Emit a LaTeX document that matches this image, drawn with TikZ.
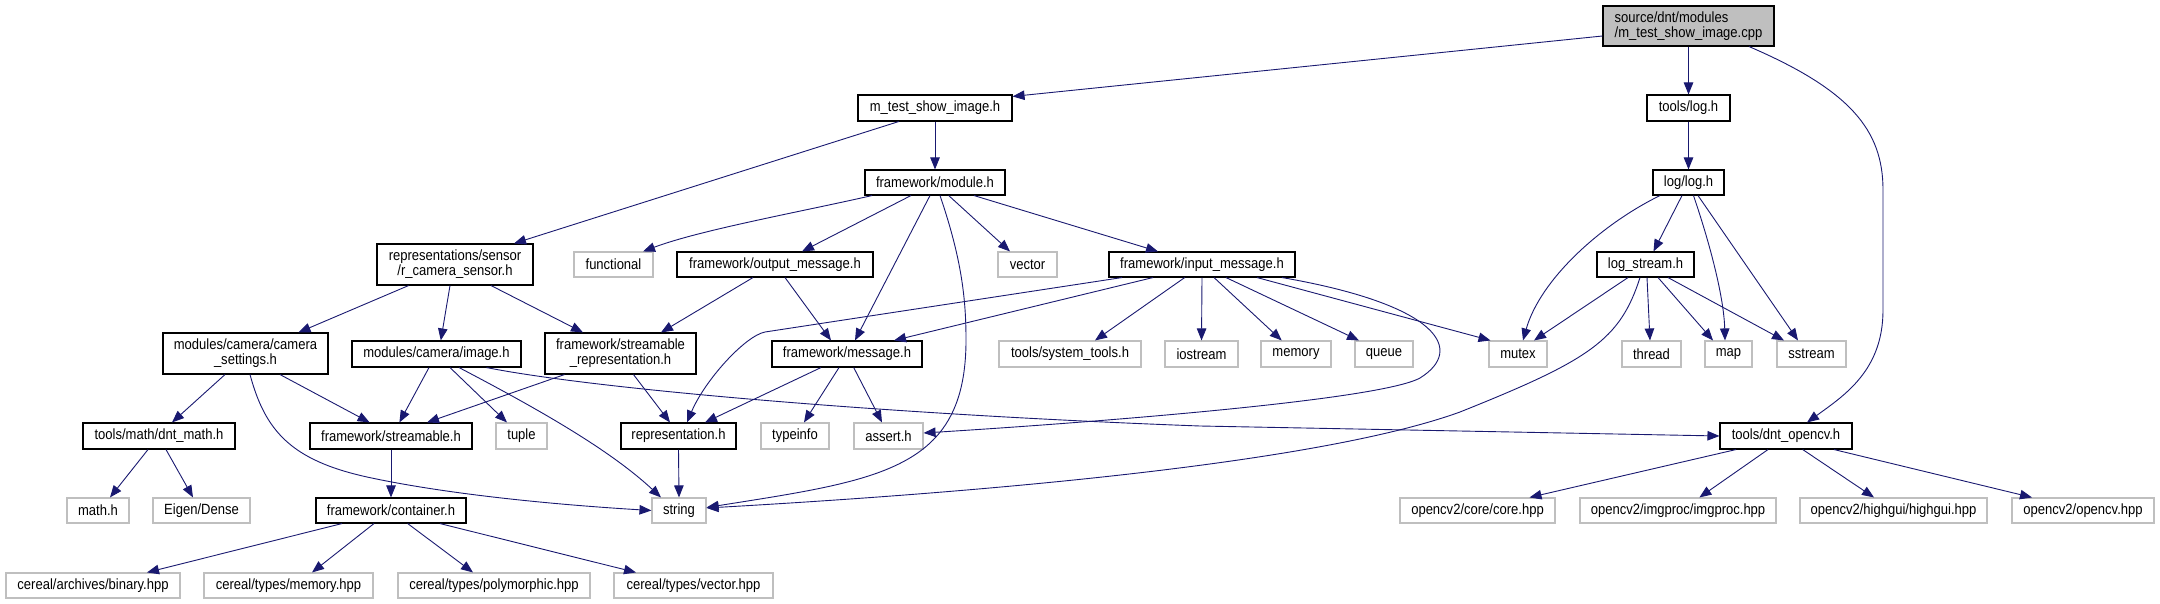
\documentclass[tikz,border=0pt]{standalone}
\usepackage{fontspec}
\newfontfamily\gf{Liberation Sans}[FakeStretch=0.88]
\usetikzlibrary{arrows.meta}
\definecolor{edgeblue}{HTML}{191970}
\definecolor{extgray}{HTML}{BFBFBF}
\tikzset{
  doc/.style={draw=black, fill=white, line width=1.1pt, inner sep=0pt, align=center,
    font=\gf\fontsize{14.8pt}{15pt}\selectfont},
  ext/.style={doc, draw=extgray},
  root/.style={doc, fill=extgray, align=left},
  dep/.style={draw=edgeblue, line width=0.9pt, -{Triangle[length=12pt,width=9.5pt]}}
}
\begin{document}
\begin{tikzpicture}[x=1pt,y=-1pt]
\useasboundingbox (0,0) rectangle (2160,604);
% nodes
\node[root, minimum width=171pt, minimum height=40pt] (src) at (1688.5,26) {source/dnt/modules\\/m\_test\_show\_image.cpp};
\node[doc, minimum width=154pt, minimum height=26pt] (mtest) at (935,108) {m\_test\_show\_image.h};
\node[doc, minimum width=83pt, minimum height=26pt] (toolslog) at (1688.5,108) {tools/log.h};
\node[doc, minimum width=140pt, minimum height=25pt] (module) at (935,182.5) {framework/module.h};
\node[doc, minimum width=71pt, minimum height=25pt] (loglog) at (1688.5,182.5) {log/log.h};
\node[doc, minimum width=156pt, minimum height=41pt] (repsensor) at (455,264.5) {representations/sensor\\/r\_camera\_sensor.h};
\node[ext, minimum width=79pt, minimum height=25pt] (functional) at (613.5,264.5) {functional};
\node[doc, minimum width=196pt, minimum height=25pt] (outmsg) at (775,264.5) {framework/output\_message.h};
\node[ext, minimum width=59pt, minimum height=25pt] (vector) at (1027.5,264.5) {vector};
\node[doc, minimum width=186pt, minimum height=25pt] (inmsg) at (1202,264.5) {framework/input\_message.h};
\node[doc, minimum width=97pt, minimum height=25pt] (logstream) at (1645.5,264.5) {log\_stream.h};
\node[doc, minimum width=165pt, minimum height=41pt] (camset) at (245.5,353.5) {modules/camera/camera\\\_settings.h};
\node[doc, minimum width=169pt, minimum height=26pt] (image) at (436.5,354) {modules/camera/image.h};
\node[doc, minimum width=151pt, minimum height=41pt] (streamrep) at (620.5,353.5) {framework/streamable\\\_representation.h};
\node[doc, minimum width=150pt, minimum height=26pt] (message) at (847,354) {framework/message.h};
\node[ext, minimum width=142pt, minimum height=26pt] (systools) at (1070,354) {tools/system\_tools.h};
\node[ext, minimum width=73pt, minimum height=26pt] (iostream) at (1201.5,354) {iostream};
\node[ext, minimum width=70pt, minimum height=26pt] (memory) at (1296,354) {memory};
\node[ext, minimum width=58pt, minimum height=26pt] (queue) at (1384,354) {queue};
\node[ext, minimum width=58pt, minimum height=26pt] (mutex) at (1518,354) {mutex};
\node[ext, minimum width=59pt, minimum height=26pt] (thread) at (1651.5,354) {thread};
\node[ext, minimum width=47pt, minimum height=26pt] (map) at (1728.5,354) {map};
\node[ext, minimum width=69pt, minimum height=26pt] (sstream) at (1811.5,354) {sstream};
\node[doc, minimum width=152pt, minimum height=26pt] (dntmath) at (159,436) {tools/math/dnt\_math.h};
\node[doc, minimum width=162pt, minimum height=26pt] (streamable) at (391,436) {framework/streamable.h};
\node[ext, minimum width=51pt, minimum height=26pt] (tuple) at (521.5,436) {tuple};
\node[doc, minimum width=115pt, minimum height=26pt] (repr) at (678.5,436) {representation.h};
\node[ext, minimum width=68pt, minimum height=26pt] (typeinfo) at (795,436) {typeinfo};
\node[ext, minimum width=69pt, minimum height=26pt] (assert) at (888.5,436) {assert.h};
\node[doc, minimum width=132pt, minimum height=26pt] (dntopencv) at (1786,436) {tools/dnt\_opencv.h};
\node[ext, minimum width=62pt, minimum height=25pt] (mathh) at (98,510.5) {math.h};
\node[ext, minimum width=97pt, minimum height=25pt] (eigen) at (201.5,510.5) {Eigen/Dense};
\node[doc, minimum width=150pt, minimum height=25pt] (container) at (391,510.5) {framework/container.h};
\node[ext, minimum width=54pt, minimum height=25pt] (string) at (679,510.5) {string};
\node[ext, minimum width=155pt, minimum height=25pt] (core) at (1477.5,510.5) {opencv2/core/core.hpp};
\node[ext, minimum width=196pt, minimum height=25pt] (imgproc) at (1678,510.5) {opencv2/imgproc/imgproc.hpp};
\node[ext, minimum width=187pt, minimum height=25pt] (highgui) at (1893.5,510.5) {opencv2/highgui/highgui.hpp};
\node[ext, minimum width=142pt, minimum height=25pt] (opencvhpp) at (2083,510.5) {opencv2/opencv.hpp};
\node[ext, minimum width=174pt, minimum height=25pt] (binary) at (93,585.5) {cereal/archives/binary.hpp};
\node[ext, minimum width=169pt, minimum height=25pt] (memoryhpp) at (288.5,585.5) {cereal/types/memory.hpp};
\node[ext, minimum width=192pt, minimum height=25pt] (poly) at (494,585.5) {cereal/types/polymorphic.hpp};
\node[ext, minimum width=159pt, minimum height=25pt] (vechpp) at (693.5,585.5) {cereal/types/vector.hpp};
% edges
\draw[dep] ([yshift=-10pt]src.west) -- ([yshift=-2pt]mtest.north east);
\draw[dep] (src.south) -- (toolslog.north);
\draw[dep] ([xshift=60.5pt]src.south) .. controls (1850,90) and (1883,130) .. (1883,190) -- (1883,310) .. controls (1883,370) and (1845,395) .. ([xshift=21pt]dntopencv.north);
\draw[dep] ([xshift=-36.3pt]mtest.south) -- ([xshift=59pt]repsensor.north);
\draw[dep] (mtest.south) -- (module.north);
\draw[dep] (toolslog.south) -- (loglog.north);
\draw[dep] ([xshift=-28.5pt]loglog.south) .. controls (1600,225) and (1540,280) .. ([xshift=5pt]mutex.north);
\draw[dep] ([xshift=-6.5pt]loglog.south) -- ([xshift=8pt]logstream.north);
\draw[dep] ([xshift=5pt]loglog.south) .. controls (1712,250) and (1724,300) .. ([xshift=-3.5pt]map.north);
\draw[dep] ([xshift=9.5pt]loglog.south) -- ([xshift=-13.5pt]sstream.north);
\draw[dep] ([xshift=-17.5pt]logstream.south) -- ([xshift=16pt]mutex.north);
\draw[dep] ([xshift=-5.5pt]logstream.south) .. controls (1620,340) and (1590,360) .. (1460,412) .. controls (1300,470) and (900,497) .. ([yshift=2.5pt]string.east);
\draw[dep] ([xshift=1.5pt]logstream.south) -- ([xshift=-1.5pt]thread.north);
\draw[dep] ([xshift=12.5pt]logstream.south) -- ([xshift=-15.5pt]map.north);
\draw[dep] ([xshift=22.5pt]logstream.south) -- ([xshift=-27.5pt]sstream.north);
\draw[dep] ([xshift=-63pt]module.south) .. controls (800,212) and (700,230) .. ([xshift=29.5pt]functional.north);
\draw[dep] ([xshift=-24pt]module.south) -- ([xshift=27pt]outmsg.north);
\draw[dep] ([xshift=-5pt]module.south) -- ([xshift=8pt]message.north);
\draw[dep] ([xshift=5pt]module.south) .. controls (962,260) and (966,300) .. (966,340) .. controls (966,470) and (880,480) .. ([yshift=3pt]string.east);
\draw[dep] ([xshift=13.7pt]module.south) -- ([xshift=-17.5pt]vector.north);
\draw[dep] ([xshift=39pt]module.south) -- ([xshift=-44pt]inmsg.north);
\draw[dep] ([xshift=-22pt]outmsg.south) -- ([xshift=40.5pt]streamrep.north);
\draw[dep] ([xshift=10pt]outmsg.south) -- ([xshift=-16pt]message.north);
\draw[dep] ([xshift=-80pt]inmsg.south) -- (765,332) .. controls (745,336) and (705,380) .. ([xshift=8.5pt]repr.north);
\draw[dep] ([xshift=-49pt]inmsg.south) -- ([xshift=47pt]message.north);
\draw[dep] ([xshift=-17.3pt]inmsg.south) -- ([xshift=25pt]systools.north);
\draw[dep] (inmsg.south) -- (iostream.north);
\draw[dep] ([xshift=12pt]inmsg.south) -- ([xshift=-14.3pt]memory.north);
\draw[dep] ([xshift=24pt]inmsg.south) -- ([xshift=-25pt]queue.north);
\draw[dep] ([xshift=55pt]inmsg.south) -- ([xshift=-27.5pt]mutex.north);
\draw[dep] ([xshift=80pt]inmsg.south) .. controls (1440,305) and (1465,350) .. (1420,378) .. controls (1380,400) and (1100,422) .. ([yshift=3pt]assert.east);
\draw[dep] ([xshift=-46.4pt]repsensor.south) -- ([xshift=53pt]camset.north);
\draw[dep] ([xshift=-5pt]repsensor.south) -- ([xshift=4.3pt]image.north);
\draw[dep] ([xshift=36pt]repsensor.south) -- ([xshift=-37.5pt]streamrep.north);
\draw[dep] ([xshift=-20.5pt]camset.south) -- ([xshift=13pt]dntmath.north);
\draw[dep] ([xshift=34.5pt]camset.south) -- ([xshift=-21.4pt]streamable.north);
\draw[dep] ([xshift=4.5pt]camset.south) .. controls (265,430) and (290,460) .. (367,477) .. controls (450,495) and (560,505) .. (string.west);
\draw[dep] ([xshift=-7.5pt]image.south) -- ([xshift=8.4pt]streamable.north);
\draw[dep] ([xshift=13.5pt]image.south) -- ([xshift=-14.5pt]tuple.north);
\draw[dep] ([xshift=22.5pt]image.south) .. controls (540,410) and (610,450) .. ([xshift=-18pt]string.north);
\draw[dep] ([xshift=50pt]image.south) .. controls (600,390) and (900,415) .. (1200,426) -- (dntopencv.west);
\draw[dep] ([xshift=-56pt]streamrep.south) -- ([xshift=36pt]streamable.north);
\draw[dep] ([xshift=13pt]streamrep.south) -- ([xshift=-8.5pt]repr.north);
\draw[dep] ([xshift=-26pt]message.south) -- ([xshift=26.5pt]repr.north);
\draw[dep] ([xshift=-8pt]message.south) -- ([xshift=9pt]typeinfo.north);
\draw[dep] ([xshift=6.7pt]message.south) -- ([xshift=-6.5pt]assert.north);
\draw[dep] ([xshift=-11pt]dntmath.south) -- ([xshift=12pt]mathh.north);
\draw[dep] ([xshift=7pt]dntmath.south) -- ([xshift=-8.5pt]eigen.north);
\draw[dep] (streamable.south) -- (container.north);
\draw[dep] (repr.south) -- (string.north);
\draw[dep] ([xshift=-49pt]container.south) -- ([xshift=54pt]binary.north);
\draw[dep] ([xshift=-17pt]container.south) -- ([xshift=23.5pt]memoryhpp.north);
\draw[dep] ([xshift=16.7pt]container.south) -- ([xshift=-21pt]poly.north);
\draw[dep] ([xshift=49pt]container.south) -- ([xshift=-57.5pt]vechpp.north);
\draw[dep] ([xshift=-50pt]dntopencv.south) -- ([xshift=52pt]core.north);
\draw[dep] ([xshift=-18pt]dntopencv.south) -- ([xshift=21.4pt]imgproc.north);
\draw[dep] ([xshift=16.7pt]dntopencv.south) -- ([xshift=-19.5pt]highgui.north);
\draw[dep] ([xshift=48pt]dntopencv.south) -- ([xshift=-51pt]opencvhpp.north);
\end{tikzpicture}
\end{document}
